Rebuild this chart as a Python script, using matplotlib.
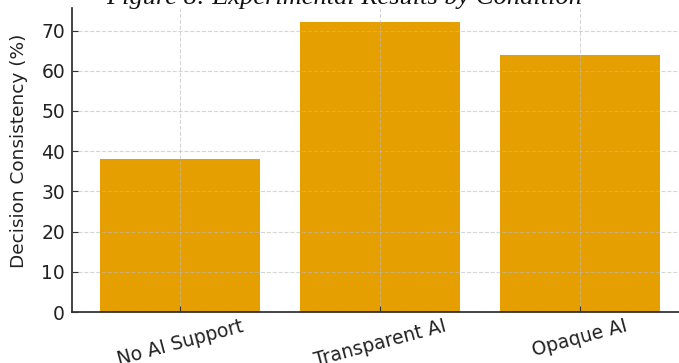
import matplotlib
matplotlib.use("Agg")
import matplotlib.pyplot as plt

categories = ["No AI Support", "Transparent AI", "Opaque AI"]
values = [38, 72, 64]
title = "Figure 8: Experimental Results by Condition"
ylabel = "Decision Consistency (%)"

fig = plt.figure(figsize=(6.79, 3.63), dpi=100)
ax = fig.add_axes([72/679, 51/363, (688-72)/679, (312-8)/363])
ax.bar(categories, values, width=0.8, color="#E69F00", zorder=2)
ax.set_ylim(0, 75.6)
ax.set_xlim(-0.54, 2.54)
ax.grid(True, linestyle="--", color="#bbbbbb", alpha=0.6, linewidth=0.8, zorder=3)
ax.set_axisbelow(False)
for s in ["top", "right"]:
    ax.spines[s].set_visible(False)
for s in ["left", "bottom"]:
    ax.spines[s].set_color("#222222")
    ax.spines[s].set_linewidth(1.2)
ax.tick_params(direction="in", length=4, color="#333333", labelsize=13.5, labelcolor="#222222")
ax.tick_params(axis="y", pad=5)
ax.set_yticks(range(0, 80, 10))
for lab in ax.get_xticklabels():
    lab.set_rotation(15)
    lab.set_ha("center")
ax.set_ylabel(ylabel, fontsize=13.3, color="#222222")
ax.yaxis.set_label_coords(-0.071, 0.53)
fig.text(0.507, 0.988, title, ha="center", va="baseline", fontsize=19,
         family="Liberation Serif", style="italic", color="#111111")
fig.savefig("out.png", dpi=100)
